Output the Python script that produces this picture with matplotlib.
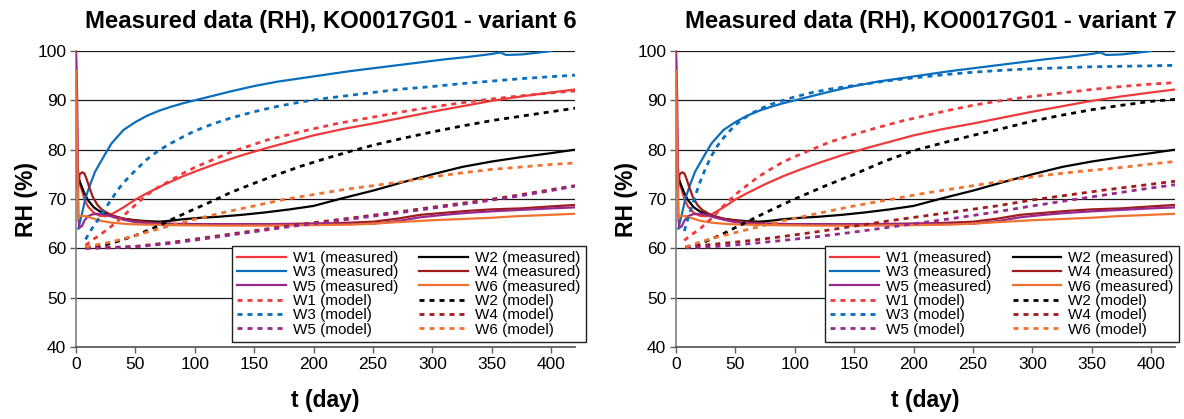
import matplotlib
matplotlib.use("Agg")
import matplotlib.pyplot as plt

plt.rcParams['font.family'] = ['Liberation Sans', 'DejaVu Sans']

# ---- measured relative humidity (same sensors in both variants) ----
w1_meas_t = [0.5, 2, 4, 7, 10, 15, 20, 25, 30, 40, 50, 60, 75, 90, 105, 120, 140, 160, 180, 200,
             225, 250, 275, 300, 325, 350, 375, 400, 420]
w1_meas = [82, 75, 72.5, 70, 68.5, 67.2, 66.6, 66.5, 66.9, 68.3, 69.9, 71.2, 73.0, 74.6, 76.0, 77.3,
           78.9, 80.3, 81.6, 82.9, 84.2, 85.3, 86.5, 87.7, 88.8, 89.9, 90.8, 91.6, 92.2]

w2_meas_t = [2, 4, 7, 10, 15, 20, 30, 40, 50, 60, 70, 80, 90, 105, 120, 140, 160, 180, 200, 225,
             250, 275, 300, 325, 350, 375, 400, 420]
w2_meas = [74.2, 73.0, 71.2, 69.8, 68.3, 67.5, 66.6, 66.0, 65.7, 65.5, 65.4, 65.6, 65.9, 66.2, 66.4,
           66.8, 67.3, 67.9, 68.6, 70.2, 71.7, 73.4, 75.0, 76.5, 77.6, 78.5, 79.3, 80.0]

w3_meas_t = [2, 5, 8, 12, 16, 20, 25, 30, 40, 50, 60, 70, 80, 90, 100, 115, 130, 150, 170, 190, 210,
             230, 250, 270, 290, 310, 330, 350, 357, 362, 375, 390, 400]
w3_meas = [64.0, 67.0, 70.2, 73.0, 75.5, 77.2, 79.3, 81.3, 84.0, 85.6, 86.9, 87.9, 88.7, 89.4, 90.0,
           90.9, 91.8, 92.9, 93.8, 94.5, 95.2, 95.9, 96.5, 97.1, 97.7, 98.3, 98.8, 99.4, 99.7, 99.2,
           99.3, 99.7, 100.0]

w4_meas_t = [0, 1.5, 3, 5, 7, 9, 11, 14, 18, 22, 30, 40, 50, 65, 80, 100, 130, 160, 190, 220, 250,
             270, 290, 310, 330, 350, 375, 400, 420]
w4_meas = [100, 72, 75, 75.4, 75.2, 74, 72.5, 70.5, 68.8, 67.8, 66.7, 66.0, 65.6, 65.2, 65.0, 64.9,
           64.9, 64.9, 65.0, 65.1, 65.4, 66.0, 66.8, 67.2, 67.6, 67.9, 68.1, 68.5, 68.8]

w5_meas_t = [0, 1, 2, 3, 5, 7, 10, 14, 20, 25, 32, 40, 50, 65, 80, 100, 130, 160, 190, 220, 250,
             270, 290, 310, 330, 350, 375, 400, 420]
w5_meas = [99.5, 90, 66, 64.2, 64.5, 65.6, 66.5, 66.9, 67.0, 66.8, 66.3, 65.8, 65.3, 65.0, 64.9,
           64.9, 64.9, 64.9, 64.9, 64.9, 65.0, 65.5, 66.3, 66.8, 67.2, 67.5, 67.8, 68.1, 68.3]

w6_meas_t = [0, 1, 1.8, 3, 6, 10, 15, 20, 30, 45, 60, 80, 120, 160, 200, 230, 250, 270, 300, 330,
             350, 370, 400, 420]
w6_meas = [96, 80, 66, 66.5, 66.6, 66.4, 66.0, 65.6, 65.2, 64.9, 64.8, 64.7, 64.6, 64.6, 64.7, 64.8,
           65.0, 65.3, 65.7, 66.0, 66.2, 66.5, 66.8, 67.0]

# ---- model results, variant 6 ----
v6_w1_t = [8, 15, 20, 30, 40, 50, 60, 70, 80, 90, 100, 130, 160, 190, 220, 250, 280, 310, 340, 370,
           400, 420]
v6_w1 = [60.6, 61.9, 62.7, 64.5, 66.6, 68.8, 70.9, 72.5, 73.8, 75.2, 76.4, 79.5, 81.9, 83.7, 85.3,
         86.6, 87.9, 89.0, 90.0, 90.8, 91.5, 91.9]

v6_w2_t = [8, 20, 30, 40, 50, 60, 70, 80, 90, 100, 115, 130, 150, 170, 190, 210, 230, 250, 275, 300,
           325, 350, 375, 400, 420]
v6_w2 = [60.1, 60.5, 61.0, 61.8, 62.6, 63.6, 64.6, 65.8, 66.9, 68.0, 69.6, 71.3, 73.2, 75.0, 76.7,
         78.2, 79.6, 80.9, 82.3, 83.6, 84.8, 85.9, 86.8, 87.7, 88.4]

v6_w3_t = [8, 12, 16, 20, 25, 30, 35, 40, 50, 60, 70, 80, 90, 100, 115, 130, 150, 170, 190, 210,
           230, 250, 275, 300, 325, 350, 375, 400, 420]
v6_w3 = [61.8, 63.5, 64.9, 66.3, 68.2, 70.0, 71.8, 73.3, 75.8, 78.1, 79.9, 81.3, 82.6, 83.8, 85.2,
         86.4, 87.7, 88.8, 89.7, 90.4, 91.0, 91.6, 92.3, 92.8, 93.4, 93.9, 94.4, 94.8, 95.1]

v6_w4_t = [8, 30, 50, 80, 110, 145, 180, 210, 240, 275, 305, 340, 370, 400, 420]
v6_w4 = [60.1, 60.2, 60.4, 61.2, 62.2, 63.4, 64.6, 65.5, 66.4, 67.5, 68.5, 69.6, 70.7, 71.9, 72.7]

v6_w5_t = [8, 30, 50, 80, 110, 145, 180, 210, 240, 275, 305, 340, 370, 400, 420]
v6_w5 = [60.0, 60.1, 60.3, 61.0, 62.0, 63.2, 64.4, 65.3, 66.2, 67.3, 68.3, 69.4, 70.5, 71.7, 72.6]

v6_w6_t = [8, 30, 50, 75, 100, 125, 150, 175, 200, 225, 250, 275, 300, 325, 350, 375, 400, 420]
v6_w6 = [60.3, 61.3, 62.6, 64.3, 65.9, 67.3, 68.6, 69.9, 70.9, 71.9, 72.7, 73.5, 74.5, 75.3, 76.0,
         76.5, 77.0, 77.3]

# ---- model results, variant 7 ----
v7_w1_t = [7, 12, 20, 30, 40, 50, 60, 70, 80, 90, 100, 115, 130, 150, 170, 190, 210, 230, 250, 275,
           300, 325, 350, 375, 400, 420]
v7_w1 = [61.6, 62.6, 63.9, 66.1, 68.6, 70.9, 72.8, 74.6, 76.1, 77.5, 78.6, 80.1, 81.6, 83.1, 84.5,
         85.8, 86.9, 88.0, 89.0, 90.0, 90.8, 91.5, 92.2, 92.8, 93.3, 93.6]

v7_w2_t = [8, 20, 30, 40, 50, 60, 75, 90, 100, 125, 150, 175, 200, 225, 250, 275, 300, 325, 350, 375,
           400, 420]
v7_w2 = [60.2, 60.9, 61.9, 63.0, 64.2, 65.4, 67.2, 68.9, 70.0, 72.6, 75.0, 77.6, 79.8, 81.4, 82.9,
         84.3, 85.8, 87.0, 88.1, 89.0, 89.8, 90.2]

v7_w3_t = [7, 10, 15, 20, 25, 30, 35, 40, 46, 52, 60, 70, 80, 90, 100, 115, 130, 150, 170, 190, 210,
           230, 250, 275, 300, 325, 350, 375, 400, 420]
v7_w3 = [63.5, 66.0, 69.8, 73.3, 76.3, 78.8, 80.8, 82.4, 84.0, 85.4, 86.8, 88.2, 89.2, 90.0, 90.7,
         91.6, 92.3, 93.0, 93.7, 94.3, 94.8, 95.3, 95.7, 96.1, 96.4, 96.6, 96.8, 96.9, 97.0, 97.1]

v7_w4_t = [8, 30, 60, 90, 120, 150, 180, 210, 240, 270, 300, 330, 360, 390, 420]
v7_w4 = [60.2, 60.8, 61.5, 62.4, 63.4, 64.5, 65.6, 66.6, 67.6, 68.6, 69.8, 70.8, 71.8, 72.7, 73.6]

v7_w5_t = [8, 30, 60, 90, 120, 150, 180, 210, 240, 270, 300, 330, 360, 390, 420]
v7_w5 = [60.1, 60.3, 60.9, 61.6, 62.4, 63.3, 64.3, 65.3, 66.3, 67.4, 68.6, 69.7, 70.8, 71.9, 72.9]

v7_w6_t = [8, 30, 60, 90, 120, 150, 180, 210, 250, 280, 310, 340, 375, 400, 420]
v7_w6 = [60.3, 62.0, 63.8, 65.6, 67.1, 68.6, 69.9, 71.2, 72.7, 73.8, 74.8, 75.6, 76.4, 77.1, 77.6]

titles = ["Measured data (RH), KO0017G01 - variant 6",
          "Measured data (RH), KO0017G01 - variant 7"]
wall_names = ["W1", "W2", "W3", "W4", "W5", "W6"]
colors = ["#EE3A3A", "#000000", "#0A6EBD", "#A01C1C", "#96288E", "#F07230"]

x_ticks = [0, 50, 100, 150, 200, 250, 300, 350, 400]
y_ticks = [40, 50, 60, 70, 80, 90, 100]

measured = [(w1_meas_t, w1_meas), (w2_meas_t, w2_meas), (w3_meas_t, w3_meas),
            (w4_meas_t, w4_meas), (w5_meas_t, w5_meas), (w6_meas_t, w6_meas)]
models = [
    [(v6_w1_t, v6_w1), (v6_w2_t, v6_w2), (v6_w3_t, v6_w3),
     (v6_w4_t, v6_w4), (v6_w5_t, v6_w5), (v6_w6_t, v6_w6)],
    [(v7_w1_t, v7_w1), (v7_w2_t, v7_w2), (v7_w3_t, v7_w3),
     (v7_w4_t, v7_w4), (v7_w5_t, v7_w5), (v7_w6_t, v7_w6)],
]

W, H = 1184, 419
fig = plt.figure(figsize=(W / 100, H / 100), dpi=100)

panel_left = [76, 676]
ax_w, ax_top, ax_bot = 499, 51, 347
legend_anchor_x = [1.022, 1.008]
dots = (0, (1.8, 1.8))

for p in range(2):
    x0 = panel_left[p]
    ax = fig.add_axes([x0 / W, (H - ax_bot) / H, ax_w / W, (ax_bot - ax_top) / H])

    for yv in y_ticks[1:]:
        ax.axhline(yv, color="#1a1a1a", lw=0.9, zorder=1)

    handles = {}
    for i, (t, v) in enumerate(measured):
        h, = ax.plot(t, v, color=colors[i], lw=1.6, zorder=3,
                     label=f"{wall_names[i]} (measured)")
        handles[("m", i)] = h
    for i, (t, v) in enumerate(models[p]):
        h, = ax.plot(t, v, color=colors[i], lw=2.0, linestyle=dots, zorder=4,
                     label=f"{wall_names[i]} (model)")
        handles[("s", i)] = h

    ax.set_xlim(0, 420)
    ax.set_ylim(40, 100)
    ax.set_xticks(x_ticks)
    ax.set_yticks(y_ticks)
    ax.tick_params(axis="both", labelsize=12.5, direction="out", length=4,
                   width=1, color="#606060", pad=3)
    for s in ["top", "right"]:
        ax.spines[s].set_visible(False)
    ax.spines["left"].set_color("#808080")
    ax.spines["left"].set_linewidth(1.2)
    ax.spines["bottom"].set_color("#505050")
    ax.spines["bottom"].set_linewidth(1.2)
    ax.set_facecolor("none")

    order = [("m", 0), ("m", 2), ("m", 4), ("s", 0), ("s", 2), ("s", 4),
             ("m", 1), ("m", 3), ("m", 5), ("s", 1), ("s", 3), ("s", 5)]
    leg_handles = [handles[k] for k in order]
    leg = ax.legend(handles=leg_handles, labels=[h.get_label() for h in leg_handles],
                    ncol=2, loc="lower right", bbox_to_anchor=(legend_anchor_x[p], 0.017),
                    borderaxespad=0, fontsize=11, frameon=True, fancybox=False,
                    edgecolor="#202020", framealpha=1, labelspacing=0.02,
                    handlelength=3.2, handletextpad=0.45, columnspacing=1.4,
                    borderpad=0.35)
    leg.get_frame().set_linewidth(1.0)
    leg.set_zorder(6)

    cx = (x0 + x0 + ax_w) / 2
    fig.text((cx + 5) / W, 1 - 28 / H, titles[p], ha="center", va="baseline",
             fontsize=17.2, fontweight="bold")
    fig.text(cx / W, 1 - 407 / H, "t (day)", ha="center", va="baseline",
             fontsize=16.5, fontweight="bold")
    fig.text((x0 - 49) / W, 1 - 199 / H, "RH (%)", ha="center", va="center",
             rotation=90, fontsize=16.5, fontweight="bold")

fig.savefig("out.png", dpi=100)
